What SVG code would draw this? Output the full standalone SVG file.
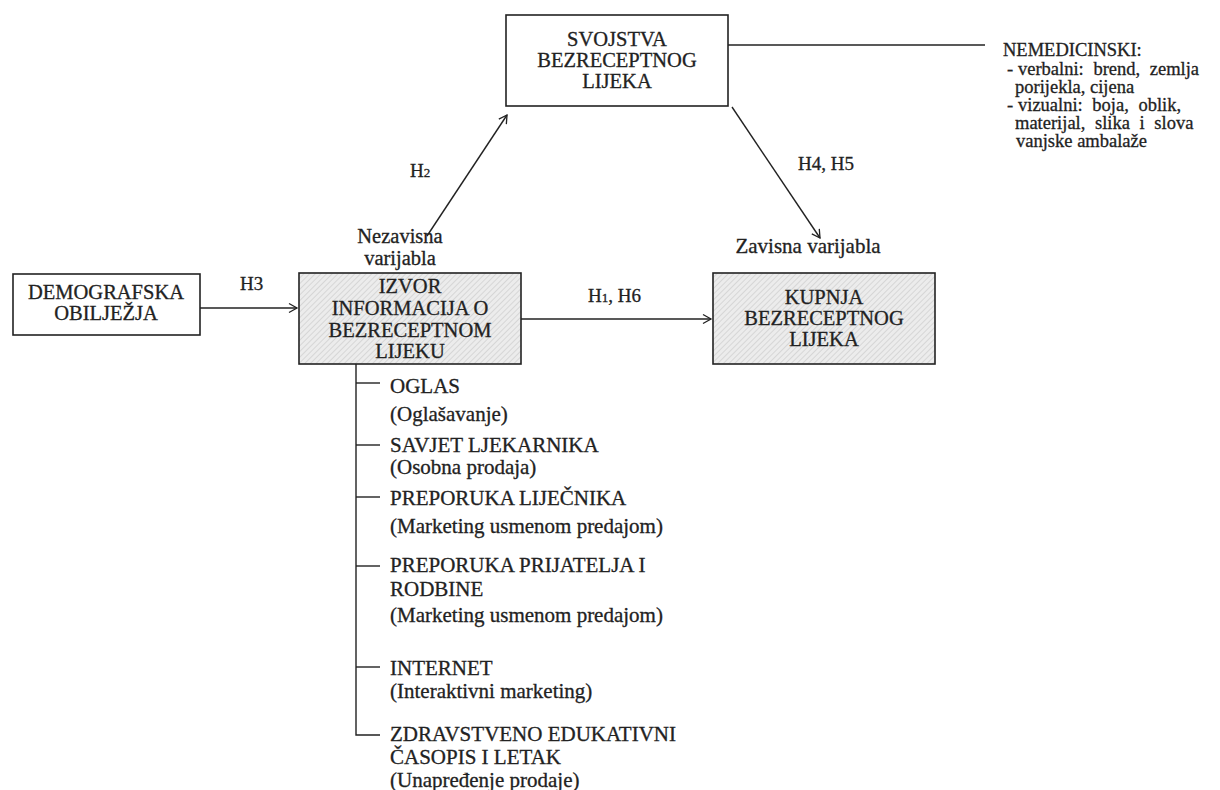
<svg xmlns="http://www.w3.org/2000/svg" width="1220" height="790" viewBox="0 0 1220 790">
<defs>
<pattern id="hatch" width="4" height="4" patternUnits="userSpaceOnUse" patternTransform="rotate(45)">
<rect width="4" height="4" fill="#ececec"/>
<line x1="0" y1="0" x2="0" y2="4" stroke="#c8c8c8" stroke-width="1.2"/>
</pattern>
<marker id="arr" markerWidth="12" markerHeight="12" refX="10" refY="6" orient="auto" markerUnits="userSpaceOnUse">
<path d="M2,1.5 L10,6 L2,10.5" fill="none" stroke="#222" stroke-width="1.3"/>
</marker>
</defs>
<style>
text{font-family:"Liberation Serif","Times New Roman",serif;fill:#222;stroke:#222;stroke-width:0.3}
.n{font-size:20.5px;text-anchor:middle}
.v{font-size:21px;text-anchor:middle}
.l{font-size:19px}
.t{font-size:21px}
.r{font-size:18.5px}
.j{word-spacing:5px}
.box{fill:#fff;stroke:#222;stroke-width:1.6}
.hb{fill:url(#hatch);stroke:#222;stroke-width:1.6}
.c{stroke:#222;stroke-width:1.4;fill:none}
</style>
<rect width="1220" height="790" fill="#fff"/>
<g id="connectors">
<line class="c" x1="728" y1="45" x2="985" y2="45"/>
<line class="c" x1="427" y1="236" x2="507" y2="115" marker-end="url(#arr)"/>
<line class="c" x1="732" y1="107" x2="820" y2="238" marker-end="url(#arr)"/>
<line class="c" x1="200" y1="308" x2="297" y2="308" marker-end="url(#arr)"/>
<line class="c" x1="521" y1="319" x2="711" y2="319" marker-end="url(#arr)"/>
<path class="c" d="M356,364 V735 H380"/>
<line class="c" x1="356" y1="383" x2="380" y2="383"/>
<line class="c" x1="356" y1="445" x2="380" y2="445"/>
<line class="c" x1="356" y1="497" x2="380" y2="497"/>
<line class="c" x1="356" y1="566" x2="380" y2="566"/>
<line class="c" x1="356" y1="667" x2="380" y2="667"/>
<text class="l" x="410" y="177">H<tspan font-size="13">2</tspan></text>
<text class="l" x="798" y="170">H4, H5</text>
<text class="l" x="240" y="290">H3</text>
<text class="l" x="588" y="302">H<tspan font-size="13">1</tspan>, H6</text>
</g>
<g id="svojstva">
<rect class="box" x="506" y="15" width="222" height="91"/>
<text class="n" x="617" y="46">SVOJSTVA</text>
<text class="n" x="617" y="67">BEZRECEPTNOG</text>
<text class="n" x="617" y="88">LIJEKA</text>
</g>
<g id="nemedicinski">
<text class="r" x="1003" y="56">NEMEDICINSKI:</text>
<text class="r" x="1007" y="75">-</text>
<text class="r j" x="1018" y="75">verbalni: brend, zemlja</text>
<text class="r" x="1015" y="93">porijekla, cijena</text>
<text class="r" x="1007" y="111">-</text>
<text class="r j" x="1018" y="111">vizualni: boja, oblik,</text>
<text class="r j" x="1015" y="129">materijal, slika i slova</text>
<text class="r" x="1016" y="147">vanjske ambalaže</text>
</g>
<g id="demografska">
<rect class="box" x="13" y="274" width="187" height="61"/>
<text class="n" x="106" y="299">DEMOGRAFSKA</text>
<text class="n" x="106" y="320">OBILJEŽJA</text>
</g>
<g id="izvor">
<text class="n" x="400" y="243">Nezavisna</text>
<text class="n" x="400" y="265">varijabla</text>
<rect class="hb" x="299" y="273" width="222" height="91"/>
<text class="n" x="410" y="293">IZVOR</text>
<text class="n" x="410" y="315">INFORMACIJA O</text>
<text class="n" x="410" y="337">BEZRECEPTNOM</text>
<text class="n" x="410" y="358">LIJEKU</text>
</g>
<g id="kupnja">
<text class="v" x="808" y="253">Zavisna varijabla</text>
<rect class="hb" x="713" y="273" width="222" height="91"/>
<text class="n" x="824" y="304">KUPNJA</text>
<text class="n" x="824" y="325">BEZRECEPTNOG</text>
<text class="n" x="824" y="346">LIJEKA</text>
</g>
<g id="oglas">
<text class="t" x="390" y="393">OGLAS</text>
<text class="t" x="390" y="421">(Oglašavanje)</text>
</g>
<g id="savjet">
<text class="t" x="390" y="452">SAVJET LJEKARNIKA</text>
<text class="t" x="390" y="474">(Osobna prodaja)</text>
</g>
<g id="preporuka-lijecnika">
<text class="t" x="390" y="505">PREPORUKA LIJEČNIKA</text>
<text class="t" x="390" y="533">(Marketing usmenom predajom)</text>
</g>
<g id="preporuka-prijatelja">
<text class="t" x="390" y="572">PREPORUKA PRIJATELJA I</text>
<text class="t" x="390" y="596">RODBINE</text>
<text class="t" x="390" y="622">(Marketing usmenom predajom)</text>
</g>
<g id="internet">
<text class="t" x="390" y="675">INTERNET</text>
<text class="t" x="390" y="698">(Interaktivni marketing)</text>
</g>
<g id="zdravstveno">
<text class="t" x="390" y="741">ZDRAVSTVENO EDUKATIVNI</text>
<text class="t" x="390" y="764">ČASOPIS I LETAK</text>
<text class="t" x="390" y="787">(Unapređenje prodaje)</text>
</g>
</svg>
